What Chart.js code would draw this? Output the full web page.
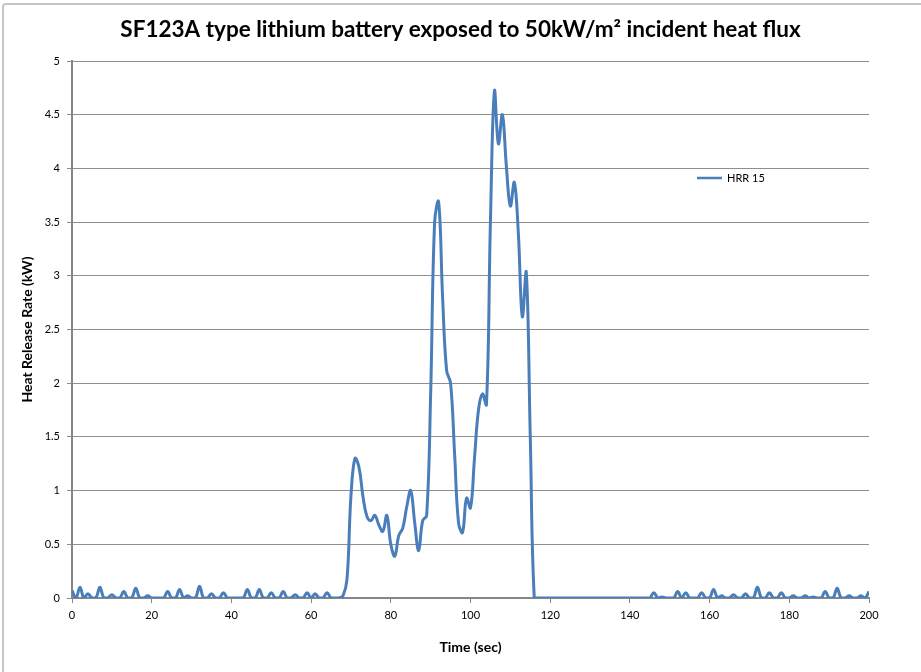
<!DOCTYPE html>
<html>
<head>
<meta charset="utf-8">
<script src="https://cdn.jsdelivr.net/npm/chart.js@4"></script>
<style>
  body { margin: 0; background: #fff; overflow: hidden; }
  #marco { position: absolute; left: 2px; top: 3px; width: 960px; height: 720px; border: 2px solid #c6c6c6; border-radius: 4px; box-sizing: border-box; }
  #grafico { position: absolute; left: 0; top: 0; }
</style>
</head>
<body>
<div id="marco"></div>
<canvas id="grafico" width="921" height="672"></canvas>
<script>
// HRR 15, un valor por segundo (0 a 200 s)
const hrr15 = [
  0.07, 0, 0.1, 0, 0.04, 0, 0, 0.1, 0, 0,
  0.03, 0, 0, 0.06, 0, 0, 0.09, 0, 0, 0.02,
  0, 0, 0, 0, 0.06, 0, 0, 0.08, 0, 0.02,
  0, 0, 0.11, 0, 0, 0.04, 0, 0, 0.05, 0,
  0, 0, 0, 0, 0.08, 0, 0, 0.08, 0, 0,
  0.05, 0, 0, 0.06, 0, 0, 0.03, 0, 0, 0.05,
  0, 0.04, 0, 0, 0.05, 0, 0, 0, 0.02, 0.17,
  0.95, 1.3, 1.22, 0.95, 0.76, 0.72, 0.77, 0.68, 0.62, 0.77,
  0.5, 0.39, 0.58, 0.65, 0.85, 1.0, 0.7, 0.44, 0.72, 0.77,
  1.9, 3.5, 3.69, 2.8, 2.12, 2.0, 1.35, 0.7, 0.61, 0.93,
  0.84, 1.3, 1.75, 1.9, 1.8, 3.5, 4.72, 4.23, 4.5, 4.02,
  3.65, 3.87, 3.4, 2.62, 3.03, 1.5, 0, 0, 0, 0,
  0, 0, 0, 0, 0, 0, 0, 0, 0, 0,
  0, 0, 0, 0, 0, 0, 0, 0, 0, 0,
  0, 0, 0, 0, 0, 0, 0.05, 0, 0.01, 0,
  0, 0, 0.06, 0, 0.05, 0, 0, 0, 0.05, 0,
  0, 0.08, 0, 0.02, 0, 0, 0.03, 0, 0, 0.04,
  0, 0, 0.1, 0, 0, 0.05, 0, 0, 0.05, 0,
  0, 0.02, 0, 0, 0.02, 0, 0.01, 0, 0, 0.06,
  0, 0, 0.09, 0, 0, 0.02, 0, 0, 0.02, 0,
  0.06
];
const segundos = hrr15.map((v, i) => i);

const titulo = "SF123A type lithium battery exposed to 50kW/m² incident heat flux";
const tituloX = "Time (sec)";
const tituloY = "Heat Release Rate (kW)";
const etiquetaSerie = "HRR 15";

const fuente = "Lato, 'Open Sans', sans-serif";
const azul = "#4a7ebb";

// leyenda dibujada a mano dentro del area del grafico
const leyendaPlugin = {
  id: "leyendaAdentro",
  afterDraw(chart) {
    const ctx = chart.ctx;
    const ds = chart.data.datasets[0];
    ctx.save();
    ctx.strokeStyle = ds.borderColor;
    ctx.lineWidth = 2.5;
    ctx.beginPath();
    ctx.moveTo(697, 178);
    ctx.lineTo(722, 178);
    ctx.stroke();
    ctx.fillStyle = "#000";
    ctx.font = "11px " + fuente;
    ctx.textBaseline = "middle";
    ctx.fillText(ds.label, 727, 178.5);
    ctx.restore();
  }
};

const ctx = document.getElementById("grafico").getContext("2d");
new Chart(ctx, {
  type: "line",
  data: {
    datasets: [{
      label: etiquetaSerie,
      data: segundos.map((t, i) => ({ x: t, y: hrr15[i] })),
      borderColor: azul,
      borderWidth: 3,
      pointRadius: 0,
      tension: 0.4,
      fill: false
    }]
  },
  options: {
    responsive: false,
    animation: false,
    layout: { padding: 0 },
    plugins: {
      legend: { display: false },
      tooltip: { enabled: false },
      title: {
        display: true,
        text: titulo,
        color: "#000",
        font: { family: fuente, size: 22.5, weight: "bold" },
        padding: { top: 16.5, bottom: 17.5 }
      }
    },
    scales: {
      x: {
        type: "linear",
        min: 0,
        max: 200,
        ticks: { stepSize: 20, color: "#000", font: { family: fuente, size: 11 }, padding: 6, maxRotation: 0 },
        grid: { drawOnChartArea: false, drawTicks: true, tickLength: 5, color: "#868686" },
        border: { color: "#868686", width: 2 },
        title: { display: true, text: tituloX, color: "#000", font: { family: fuente, size: 14, weight: "bold" }, padding: { top: 0, bottom: 16.5 } },
        afterFit(scale) { scale.height = 74; }
      },
      y: {
        min: 0,
        max: 5,
        ticks: {
          stepSize: 0.5, color: "#000", font: { family: fuente, size: 11 }, padding: 7,
          callback: v => String(v)
        },
        grid: { color: "#8e8e8e", lineWidth: 1, tickLength: 5 },
        border: { color: "#868686", width: 2 },
        title: { display: true, text: tituloY, color: "#000", font: { family: fuente, size: 14, weight: "bold" }, padding: { top: 19, bottom: 0 } },
        afterFit(scale) { scale.width = 72; }
      },
      // eje vacio a la derecha, solo para dejar el margen
      margenDer: {
        position: "right",
        min: 0,
        max: 5,
        ticks: { display: false },
        grid: { display: false },
        border: { display: false },
        afterFit(scale) { scale.width = 52; }
      }
    }
  },
  plugins: [leyendaPlugin]
});
</script>
</body>
</html>
